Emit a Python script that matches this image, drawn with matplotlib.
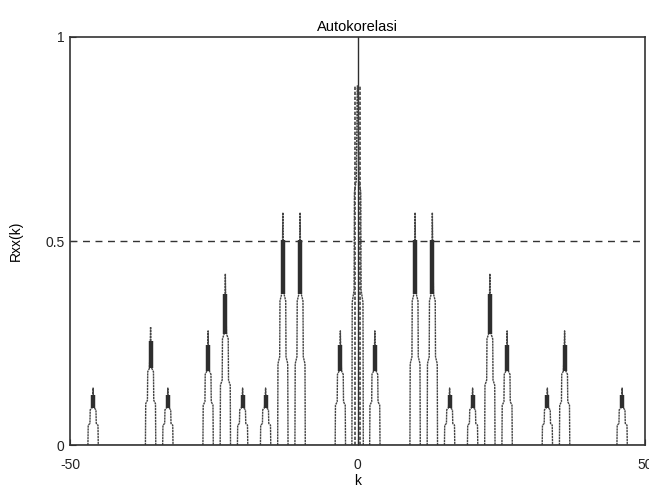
"""Autocorrelation plot (Autokorelasi) in the old MATLAB figure style."""

import matplotlib
matplotlib.use("Agg")
import matplotlib.pyplot as plt
import numpy as np

# peaks: lag k and peak height Rxx(k)
PEAK_K = [-46, -36, -33, -26, -23, -20, -16, -13, -10, -3,
          3, 10, 13, 16, 20, 23, 26, 33, 36, 46]
PEAK_H = [0.14, 0.29, 0.14, 0.28, 0.42, 0.14, 0.14, 0.57, 0.57, 0.28,
          0.28, 0.57, 0.57, 0.14, 0.14, 0.42, 0.28, 0.14, 0.28, 0.14]
CENTER_H = 1.0
THRESHOLD = 0.5

XLIM = (-50, 50)
YLIM = (0, 1)
X_TICKS = [-50, 0, 50]
Y_TICKS = [0, 0.5, 1]

# outline of one peak: (offset in k, fraction of peak height)
SHAPE_DX = [-0.9, -0.85, -0.55, -0.5, -0.2, -0.05, 0.0, 0.05, 0.2, 0.5, 0.55, 0.85, 0.9]
SHAPE_FY = [0.0, 0.35, 0.38, 0.62, 0.65, 0.88, 1.0, 0.88, 0.65, 0.62, 0.38, 0.35, 0.0]

LINE = "#444444"

plt.rcParams["font.family"] = ["Liberation Sans", "DejaVu Sans"]
plt.rcParams["axes.unicode_minus"] = False

fig = plt.figure(figsize=(6.49, 4.93), dpi=100)
ax = fig.add_axes([0.108, 0.097, 0.886, 0.828])

# baseline
ax.plot(XLIM, [0, 0], color=LINE, lw=1.0)

dx = np.array(SHAPE_DX)
fy = np.array(SHAPE_FY)
for k, h in zip(PEAK_K, PEAK_H):
    ax.plot(k + dx, h * fy, color=LINE, lw=1.0, ls=(0, (1.6, 0.5)))
    # dark dense band near the top of each peak
    ax.plot([k, k], [0.65 * h, 0.88 * h], color="#2e2e2e", lw=3.2, solid_capstyle="butt")

# central peak at k = 0
ax.plot([0, 0], [0, CENTER_H], color="#2e2e2e", lw=1.0)
ax.plot(1.1 * dx, CENTER_H * np.minimum(fy, 0.88), color=LINE, lw=1.0, ls=(0, (1.6, 0.5)))
ax.plot([-0.5, -0.5], [0, 0.88 * CENTER_H], color=LINE, lw=1.2, ls=(0, (2, 1.0)))
ax.plot([0.5, 0.5], [0, 0.88 * CENTER_H], color=LINE, lw=1.2, ls=(0, (2, 1.0)))

# dashed threshold line
ax.axhline(THRESHOLD, color="#333333", lw=1.0, ls=(0, (5, 4)))

ax.set_xlim(*XLIM)
ax.set_ylim(*YLIM)
ax.set_xticks(X_TICKS)
ax.set_yticks(Y_TICKS)
ax.set_yticklabels(["0", "0.5", "1"])
ax.tick_params(direction="in", length=4, width=0.8, labelsize=10, colors="#222222")
ax.tick_params(axis="x", pad=9)
ax.tick_params(axis="y", pad=4)
for side in ax.spines.values():
    side.set_linewidth(1.2)
    side.set_color("#333333")

ax.set_title("Autokorelasi", fontsize=10.5, pad=4)
ax.set_xlabel("k", fontsize=10, labelpad=2)
ax.set_ylabel("Rxx(k)", fontsize=10, labelpad=16)

fig.savefig("out.png", dpi=100)
